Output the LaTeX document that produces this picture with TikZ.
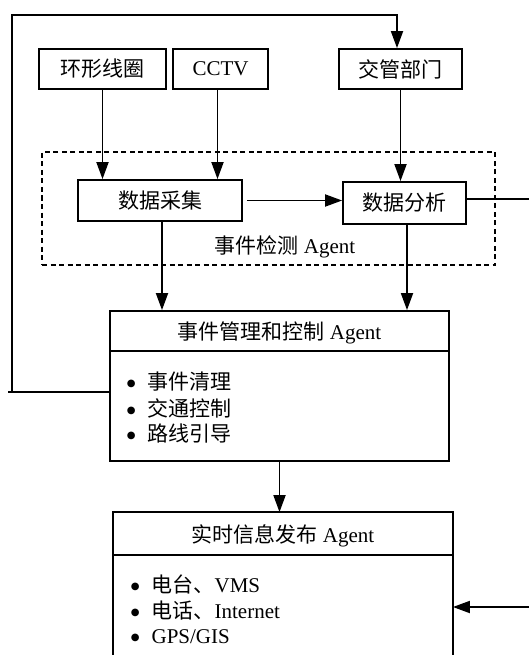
\documentclass[tikz,border=0pt]{standalone}
\usepackage{fontspec}
\setmainfont{Liberation Serif}
\newfontfamily\cjk{Noto Sans CJK SC}
\newfontfamily\dv{DejaVu Sans}
\usetikzlibrary{arrows.meta,calc}
\newcommand\fsz{\fontsize{21}{25}\selectfont}
\newcommand\zh[1]{{\cjk #1}}
\newcommand\bul{\raisebox{3pt}{\dv\fontsize{10}{10}\selectfont ●}}
\begin{document}
\begin{tikzpicture}[x=1pt,y=-1pt,line width=1.8pt,
  box/.style={draw, rectangle, inner sep=0pt, font=\fsz},
  arr/.style={-{Triangle[length=17pt,width=12pt]}},
  lbl/.style={inner sep=0pt, font=\fsz},
  dbox/.style={draw, line width=1.6pt, dash pattern=on 5pt off 3.5pt, inner sep=0pt}]
\fill[white] (0,0) rectangle (529,655);
\useasboundingbox (0,0) rectangle (529,655);

% top row
\node[box, minimum width=127pt, minimum height=40pt] (hx) at (102.5,69) {\zh{环形线圈}};
\node[box, minimum width=95pt, minimum height=40pt] (cctv) at (220.5,69) {CCTV};
\node[box, minimum width=123pt, minimum height=40pt] (jg) at (400.5,69) {\zh{交管部门}};

% detection agent (dashed)
\node[dbox, minimum width=453pt, minimum height=113pt] (det) at (268.5,208.5) {};
\node[box, fill=white, minimum width=164pt, minimum height=41pt] (sj) at (160,200.5) {\zh{数据采集}};
\node[box, fill=white, minimum width=123pt, minimum height=42pt] (fx) at (404.5,203) {\zh{数据分析}};
\node[lbl] (detl) at (285,247) {\zh{事件检测} Agent};

% management agent
\node[box, minimum width=339pt, minimum height=150pt] (gl) at (279.5,386) {};
\coordinate (d1) at (0,351);
\draw (gl.west |- d1) -- (gl.east |- d1);
\node[lbl] (glt) at (279.5,333) {\zh{事件管理和控制} Agent};
\node[lbl, anchor=west] (g1) at (126,382) {\bul\hspace{12pt}\zh{事件清理}};
\node[lbl, anchor=west] (g2) at (126,408) {\bul\hspace{12pt}\zh{交通控制}};
\node[lbl, anchor=west] (g3) at (126,433) {\bul\hspace{12pt}\zh{路线引导}};

% release agent (open at bottom)
\node[inner sep=0pt, minimum width=338pt, minimum height=142pt] (ss) at (283,584) {};
\draw (ss.south west) -- (ss.north west) -- (ss.north east) -- (ss.south east);
\coordinate (d2) at (0,555);
\draw (ss.west |- d2) -- (ss.east |- d2);
\node[lbl] (sst) at (283,536) {\zh{实时信息发布} Agent};
\node[lbl, anchor=west] (s1) at (130,584) {\bul\hspace{12pt}\zh{电台、}VMS};
\node[lbl, anchor=west] (s2) at (130,611) {\bul\hspace{12pt}\zh{电话、}Internet};
\node[lbl, anchor=west] (s3) at (130,637) {\bul\hspace{12pt}GPS/GIS};

% connectors
\draw[arr] (hx.south) -- (hx.south |- sj.north);
\draw[arr] ([xshift=-3pt]cctv.south) -- ([xshift=-3pt]cctv.south |- sj.north);
\draw[arr] (jg.south) -- (jg.south |- fx.north);
\draw[arr] ([xshift=4pt]sj.east) -- (sj.east -| fx.west);
\draw[arr] ([xshift=2pt]sj.south) -- ([xshift=2pt]sj.south |- gl.north);
\draw[arr] ([xshift=2.5pt]fx.south) -- ([xshift=2.5pt]fx.south |- gl.north);
\draw[arr] (gl.south) -- (gl.south |- ss.north);

% off-picture links on the right
\coordinate (r1) at (529,199);
\draw (fx.east |- r1) -- (r1);
\coordinate (r2) at (529,607);
\draw[arr] (r2) -- (r2 -| ss.east);

% feedback loop
\coordinate (fbl) at (8,392);
\coordinate (fbc) at (12,392);
\coordinate (fbt) at (12,15);
\coordinate (fbr) at (397,15);
\draw (gl.west |- fbl) -- (fbl);
\draw[arr] (fbc) -- (fbt) -- (fbr) -- (fbr |- jg.north);
\end{tikzpicture}
\end{document}
